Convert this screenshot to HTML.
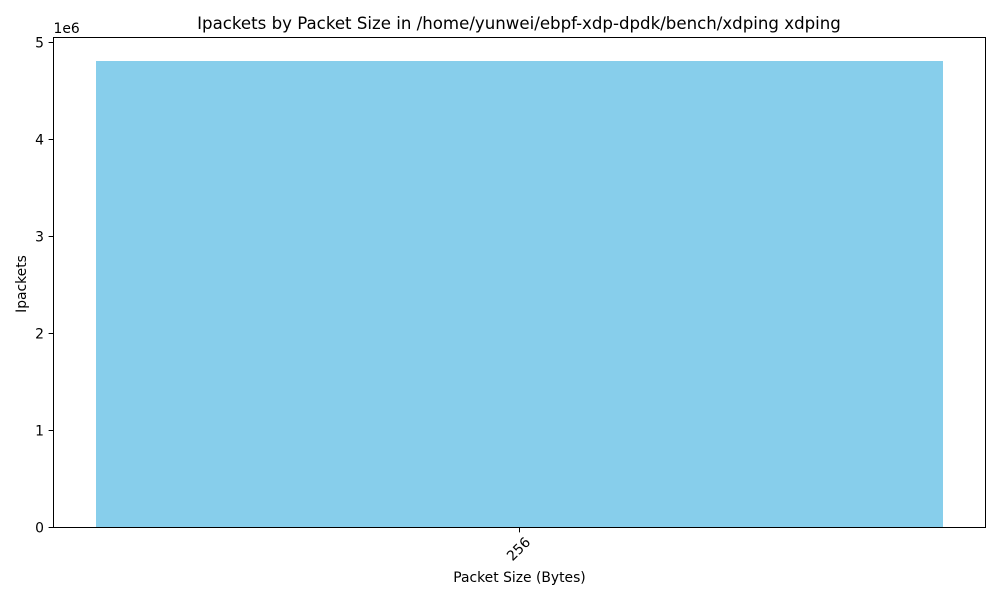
<!DOCTYPE html>
<html>
<head>
<meta charset="utf-8">
<style>
html,body{margin:0;padding:0;background:#fff;width:1000px;height:600px;overflow:hidden}
svg{display:block}
text{font-family:"DejaVu Sans",sans-serif;fill:#000}
</style>
</head>
<body>
<svg id="chart" xmlns="http://www.w3.org/2000/svg" width="1000" height="600" viewBox="0 0 1000 600">
<rect x="0" y="0" width="1000" height="600" fill="#fff"/>
<g id="bars"></g>
<g id="ticks"></g>
<rect x="53.5" y="37.5" width="932" height="490" fill="none" stroke="#000" stroke-width="1"/>
<text x="519" y="29" font-size="16.62" text-anchor="middle">Ipackets by Packet Size in /home/yunwei/ebpf-xdp-dpdk/bench/xdping xdping</text>
<text x="519.5" y="582" font-size="13.89" text-anchor="middle">Packet Size (Bytes)</text>
<text x="0" y="0" font-size="13.89" text-anchor="middle" transform="translate(26,284) rotate(-90)">Ipackets</text>
<text x="53.5" y="33" font-size="13.89">1e6</text>
</svg>
<script>
const categories = ["256"];
const ipackets = [4810000];
const yTickValues = [0, 1000000, 2000000, 3000000, 4000000, 5000000];
const yTickLabels = ["0", "1", "2", "3", "4", "5"];

const NS = "http://www.w3.org/2000/svg";
const plotLeft = 53.5, plotRight = 985.5, plotTop = 37.5, plotBottom = 527.5;
const barFraction = 0.8, xMargin = 0.05, yMargin = 0.05;

const yMax = Math.max(...ipackets) * (1 + yMargin);
function yScale(v) {
  return plotBottom - (v / yMax) * (plotBottom - plotTop);
}
const xMin = -barFraction / 2 - (categories.length - 1 + barFraction) * xMargin;
const xMax = categories.length - 1 + barFraction / 2 + (categories.length - 1 + barFraction) * xMargin;
function xScale(i) {
  return plotLeft + ((i - xMin) / (xMax - xMin)) * (plotRight - plotLeft);
}
function make(tag, attrs, parent) {
  const el = document.createElementNS(NS, tag);
  for (const k in attrs) el.setAttribute(k, attrs[k]);
  parent.appendChild(el);
  return el;
}

const barsG = document.getElementById("bars");
const ticksG = document.getElementById("ticks");

ipackets.forEach(function (v, i) {
  const x0 = Math.round(xScale(i - barFraction / 2));
  const x1 = Math.round(xScale(i + barFraction / 2));
  const top = Math.round(yScale(v));
  const bar = make("rect", { x: x0, y: top, width: x1 - x0, height: plotBottom - top, fill: "#87ceeb" }, barsG);
  
  
});

categories.forEach(function (c, i) {
  const x = Math.round(xScale(i) - 0.5) + 0.5;
  const tick = make("line", { x1: x, x2: x, y1: plotBottom, y2: plotBottom + 4.9, stroke: "#000", "stroke-width": 1 }, ticksG);
  
  
  const label = make("text", { "font-size": 13.89, "text-anchor": "middle", transform: "translate(" + (x - 0.5) + ",549.5) rotate(-45)", "dominant-baseline": "central" }, ticksG);
  label.textContent = c;
  
  
});

yTickValues.forEach(function (v, i) {
  const y = Math.round(yScale(v) - 0.5) + 0.5;
  const tick = make("line", { x1: plotLeft - 4.9, x2: plotLeft, y1: y, y2: y, stroke: "#000", "stroke-width": 1 }, ticksG);
  
  
  const label = make("text", { x: 44, y: y + 5, "font-size": 13.89, "text-anchor": "end" }, ticksG);
  label.textContent = yTickLabels[i];
  
  
});
</script>
</body>
</html>
